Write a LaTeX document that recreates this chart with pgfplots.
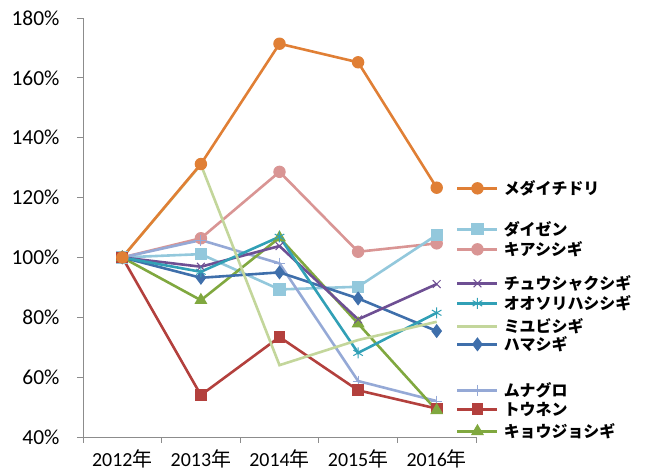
\documentclass[border=0pt]{standalone}
\usepackage{fontspec}
\setmainfont{Carlito}
\newfontfamily\cjk{Noto Sans CJK JP}
\usepackage{pgfplots}
\pgfplotsset{compat=1.18}
\definecolor{cMedai}{HTML}{E07F35}
\definecolor{cDaizen}{HTML}{93C8DC}
\definecolor{cKia}{HTML}{D99594}
\definecolor{cChuu}{HTML}{6E4F93}
\definecolor{cOoso}{HTML}{31A0B6}
\definecolor{cMyubi}{HTML}{C3D69B}
\definecolor{cHama}{HTML}{3F6FAB}
\definecolor{cMuna}{HTML}{95A9D6}
\definecolor{cTounen}{HTML}{B3403D}
\definecolor{cKyou}{HTML}{80A83F}
\pgfplotsset{
 base/.style={line width=2.6bp, mark options={solid, line width=1bp}},
 sMedai/.style={base, cMedai, mark=*, mark size=5.7bp},
 sDaizen/.style={base, cDaizen, mark=square*, mark size=5.6bp},
 sKia/.style={base, cKia, mark=*, mark size=5.7bp},
 sChuu/.style={base, cChuu, mark=x, mark size=5.5bp},
 sOoso/.style={base, cOoso, mark=asterisk, mark size=5.5bp},
 sMyubi/.style={base, cMyubi, mark=none},
 sHama/.style={base, cHama, mark=diamond*, mark size=6.3bp},
 sMuna/.style={base, cMuna, mark=+, mark size=5.5bp},
 sTounen/.style={base, cTounen, mark=square*, mark size=5.4bp},
 sKyou/.style={base, cKyou, mark=triangle*, mark size=6.5bp},
}
\newcommand{\legent}[3]{\addlegendentry{\rule[-#2bp]{0pt}{#1bp}{\cjk\bfseries #3}}}
\begin{document}
\begin{tikzpicture}
\begin{axis}[
 name=ax,
 scale only axis, width=393bp, height=419bp,
 xmin=-0.5, xmax=4.5, ymin=40, ymax=180,
 axis x line=bottom, axis y line=left,
 axis line style={-, draw=gray!90, line width=0.8bp},
 tick align=outside,
 xtick={0,1,2,3,4},
 xticklabels={2012{\cjk 年},2013{\cjk 年},2014{\cjk 年},2015{\cjk 年},2016{\cjk 年}},
 major x tick style={draw=none},
 minor xtick={-0.5,0.5,1.5,2.5,3.5,4.5},
 minor tick length=6bp, major tick length=6bp,
 every tick/.style={draw=gray!90, line width=0.8bp},
 ytick={40,60,...,180},
 yticklabel={\pgfmathprintnumber{\tick}\%},
 /pgf/number format/assume math mode=true,
 xticklabel style={font=\fontsize{20}{22}\selectfont, inner sep=0pt, yshift=-6bp},
 yticklabel style={font=\fontsize{21.5}{23}\selectfont, xshift=-14bp},
 clip=false,
 legend image code/.code={\draw[mark repeat=2,mark phase=2] plot coordinates {(0bp,6bp)(20bp,6bp)(40bp,6bp)};},
 legend style={draw=none, fill=none, at={(rel axis cs:0.949,0.613)}, anchor=north west,
   inner sep=0pt, row sep=0pt, column sep=5bp, cells={anchor=base west},
   nodes={inner sep=0pt, text depth=}, font=\fontsize{16}{17}\selectfont},
]
\addplot[sKia, forget plot] coordinates {(0,100)(1,106.4)(2,128.6)(3,101.9)(4,104.7)};
\addplot[sDaizen, forget plot] coordinates {(0,100)(1,101.1)(2,89.3)(3,90.2)(4,107.5)};
\addplot[sMuna, forget plot] coordinates {(0,100)(1,105.8)(2,98.0)(3,58.7)(4,52.0)};
\addplot[sTounen, forget plot] coordinates {(0,100)(1,54.0)(2,73.4)(3,55.6)(4,49.5)};
\addplot[sKyou, forget plot] coordinates {(0,100)(1,85.7)(2,106.6)(3,77.9)(4,48.9)};
\addplot[sHama, forget plot] coordinates {(0,100)(1,93.2)(2,95.0)(3,86.3)(4,75.4)};
\addplot[sChuu, forget plot] coordinates {(0,100)(1,96.9)(2,103.8)(3,79.3)(4,91.1)};
\addplot[sOoso, forget plot] coordinates {(0,100)(1,95.2)(2,106.9)(3,68.1)(4,81.5)};
\addplot[sMyubi, forget plot] coordinates {(0,100)(1,131.0)(2,64.0)(3,72.4)(4,78.5)};
\addplot[sMedai, forget plot] coordinates {(0,100)(1,131.2)(2,171.4)(3,165.2)(4,123.3)};
\addlegendimage{sMedai}\legent{15}{4}{メダイチドリ}
\addlegendimage{sDaizen}\legent{41}{4}{ダイゼン}
\addlegendimage{sKia}\legent{20}{4}{キアシシギ}
\addlegendimage{sChuu}\legent{34}{4}{チュウシャクシギ}
\addlegendimage{sOoso}\legent{20}{4}{オオソリハシシギ}
\addlegendimage{sMyubi}\legent{23}{4}{ミユビシギ}
\addlegendimage{sHama}\legent{18}{4}{ハマシギ}
\addlegendimage{sMuna}\legent{46}{4}{ムナグロ}
\addlegendimage{sTounen}\legent{19}{4}{トウネン}
\addlegendimage{sKyou}\legent{22}{4}{キョウジョシギ}
\end{axis}
\pgfresetboundingbox
\path ([shift={(-83bp,-33bp)}]ax.south west) rectangle ([shift={(172bp,18bp)}]ax.north east);
\end{tikzpicture}
\end{document}
